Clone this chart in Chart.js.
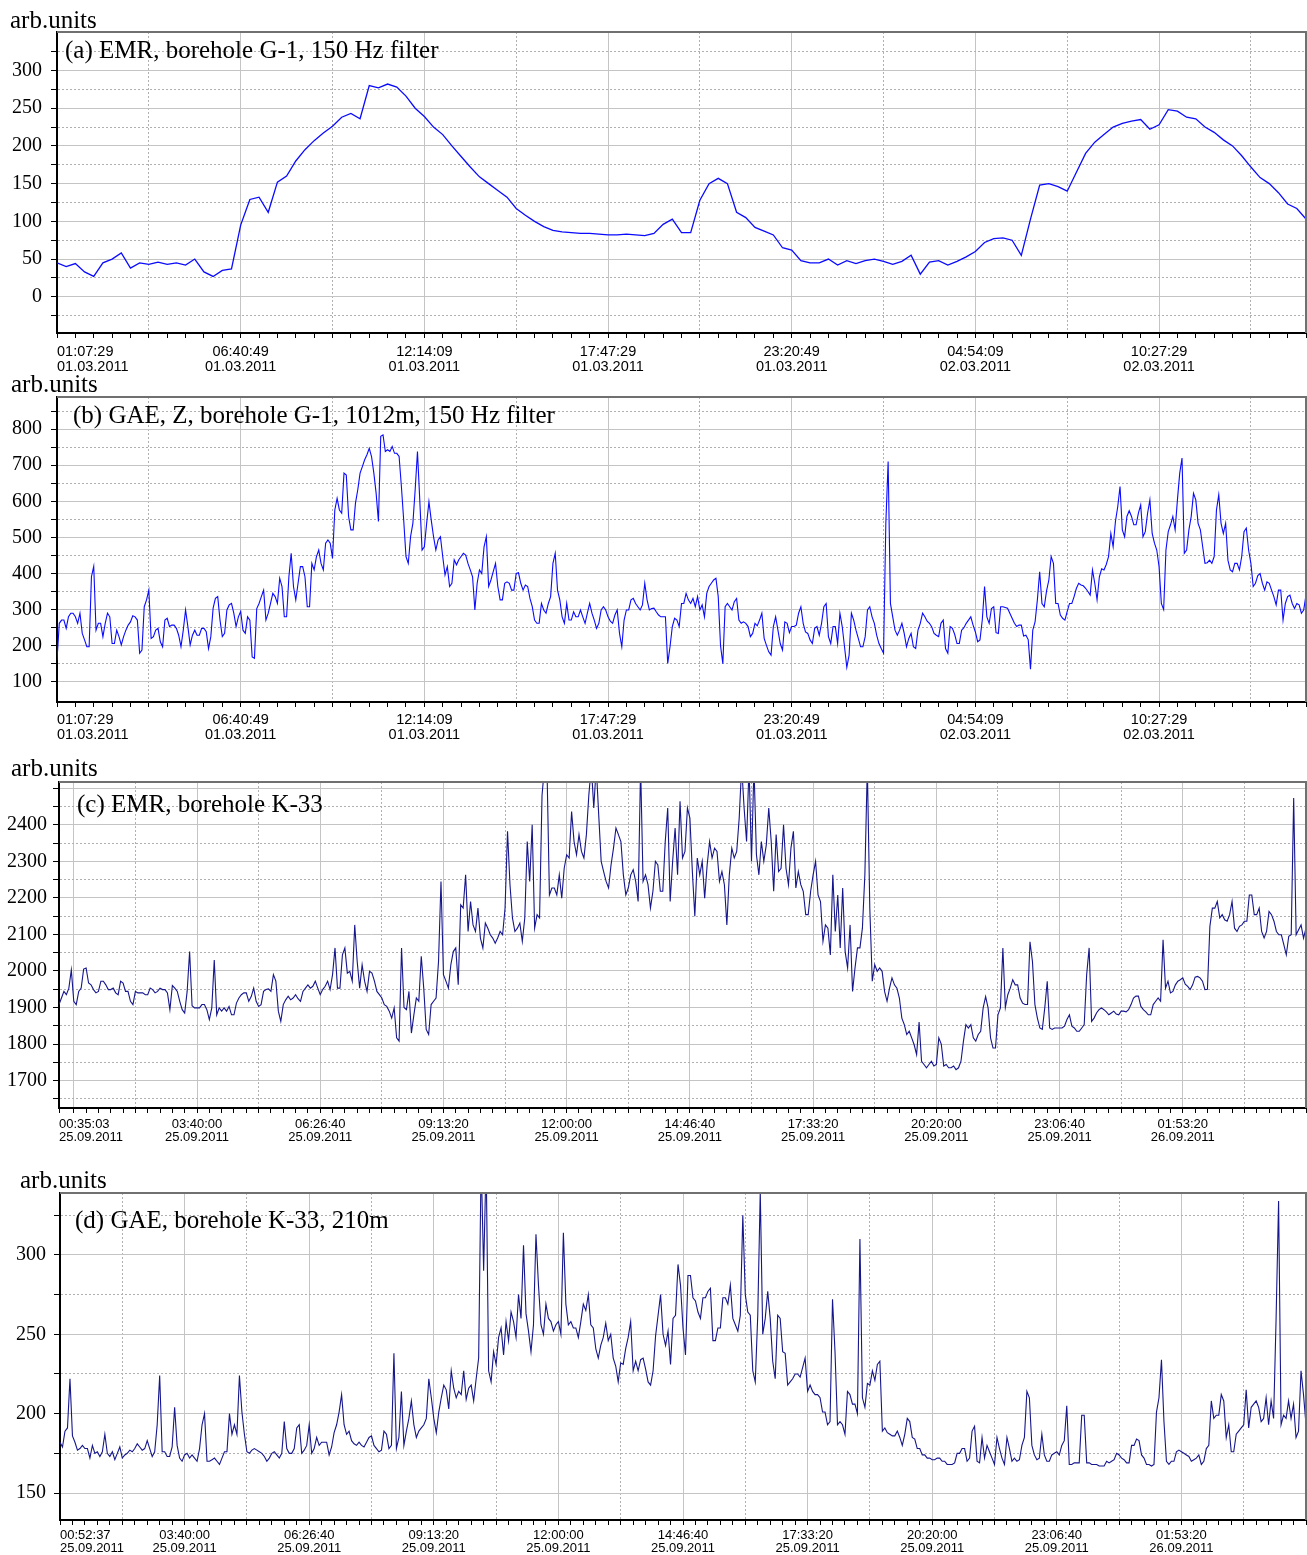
<!DOCTYPE html>
<html>
<head>
<meta charset="utf-8">
<script src="https://cdn.jsdelivr.net/npm/chart.js@4.4.1/dist/chart.umd.min.js"></script>
<style>
  body { margin: 0; background: #fff; width: 1307px; height: 1555px; position: relative; overflow: hidden; }
  canvas { position: absolute; left: 0; }
</style>
</head>
<body>
<canvas id="panelA" width="1313" height="372" style="top:0px"></canvas>
<canvas id="panelB" width="1312" height="385" style="top:372px"></canvas>
<canvas id="panelC" width="1311" height="410" style="top:757px"></canvas>
<canvas id="panelD" width="1310" height="388" style="top:1167px"></canvas>
<script>
// time axis labels (seconds from start of record)
const timesG1 = ['01:07:29', '06:40:49', '12:14:09', '17:47:29', '23:20:49', '04:54:09', '10:27:29'];
const datesG1 = ['01.03.2011', '01.03.2011', '01.03.2011', '01.03.2011', '01.03.2011', '02.03.2011', '02.03.2011'];
const timesK33c = ['00:35:03', '03:40:00', '06:26:40', '09:13:20', '12:00:00', '14:46:40', '17:33:20', '20:20:00', '23:06:40', '01:53:20'];
const timesK33d = ['00:52:37', '03:40:00', '06:26:40', '09:13:20', '12:00:00', '14:46:40', '17:33:20', '20:20:00', '23:06:40', '01:53:20'];
const datesK33 = ['25.09.2011', '25.09.2011', '25.09.2011', '25.09.2011', '25.09.2011', '25.09.2011', '25.09.2011', '25.09.2011', '25.09.2011', '26.09.2011'];

const yLabelsA = [0, 50, 100, 150, 200, 250, 300];
const yLabelsB = [100, 200, 300, 400, 500, 600, 700, 800];
const yLabelsC = [1700, 1800, 1900, 2000, 2100, 2200, 2300, 2400];
const yLabelsD = [150, 200, 250, 300];

const unitsText = 'arb.units';
const titles = [
  '(a) EMR, borehole G-1, 150 Hz filter',
  '(b) GAE, Z, borehole G-1, 1012m, 150 Hz filter',
  '(c) EMR, borehole K-33',
  '(d) GAE, borehole K-33, 210m'
];

// (a) EMR G-1, one sample per 1000 s
const stepA = 1000;
const emrG1 = [45,40,44,33,27,45,50,58,38,45, 43,46,43,45,42,50,33,27,35,37,
  95,129,132,112,152,160,180,195,207,217, 226,238,243,236,280,277,282,278,266,250,
  239,225,215,200,186,172,159,150,141,132, 117,108,100,93,88,86,85,84,84,83,
  82,82,83,82,81,84,96,103,85,85, 128,150,157,150,112,105,92,87,82,65,
  62,48,45,45,50,42,48,44,48,50, 47,43,47,55,30,46,48,42,47,53,
  60,72,77,78,75,55,103,148,150,146, 140,165,190,205,215,225,230,233,235,222,
  228,248,246,238,236,225,218,208,200,187, 172,158,150,138,123,117,103];

// (b) GAE G-1, one sample per 250 s
const stepB = 250;
const gaeG1 = [
  160,262,271,271,248,280,290,290,280,262,290,234,216,197,197,391,420,243,262,262,
  225,262,290,280,206,206,243,225,202,225,243,257,266,283,280,271,179,188,308,327,
  354,220,225,243,248,211,197,271,276,253,257,257,248,229,197,243,299,253,202,229,
  243,229,229,248,248,239,192,225,304,331,336,271,225,234,299,313,317,290,253,280,
  295,243,234,280,271,169,165,303,317,336,354,271,290,317,345,336,317,387,364,280,
  280,391,456,364,327,373,419,419,391,308,308,428,410,447,465,428,410,484,493,484,
  442,576,608,576,567,678,673,558,521,521,595,632,678,696,715,729,747,724,678,622,
  544,780,784,738,743,738,752,733,733,724,641,548,447,428,502,539,632,738,604,465,
  474,539,599,548,502,465,493,502,447,396,419,364,373,438,424,438,447,456,451,428,
  410,391,299,373,410,400,474,502,364,382,405,428,364,327,327,373,377,373,354,354,
  400,402,373,354,368,364,331,308,271,262,262,317,299,290,317,336,428,456,354,327,
  280,262,317,271,271,294,280,280,299,280,262,290,317,290,271,248,262,299,308,299,
  280,268,262,285,299,234,197,271,299,299,327,331,317,308,299,313,373,327,299,303,
  304,294,285,280,280,280,151,197,253,276,271,253,317,317,
  345,327,317,331,308,336,299,313,280,345,364,373,382,387,336,200,150,308,317,308,
  299,322,331,271,262,266,262,253,225,234,262,255,271,290,220,201,183,174,253,280,
  243,206,188,266,262,236,253,253,257,290,308,262,238,234,216,206,248,253,229,262,
  308,317,225,206,253,253,206,290,253,197,140,174,290,271,243,220,197,197,225,299,
  308,280,262,229,206,192,179,540,710,317,280,243,229,243,262,234,197,220,234,197,
  192,243,262,290,280,268,262,252,234,229,225,262,271,192,179,253,248,231,206,206,
  243,250,262,271,280,257,238,211,216,271,364,280,262,303,308,236,234,308,308,306,
  304,290,276,262,253,257,257,227,229,217,135,243,266,327,405,317,308,352,382,447,
  428,317,317,285,276,271,295,317,317,336,359,373,368,366,359,350,340,410,373,327,
  391,413,410,425,447,511,474,544,585,641,521,502,558,574,558,535,535,567,590,502,
  516,567,604,511,484,465,419,317,300,465,516,535,558,521,604,678,720,456,465,521,
  558,622,604,539,521,474,428,430,437,428,447,576,618,539,511,539,437,410,405,428,
  428,410,447,516,526,465,428,364,373,394,400,373,354,377,373,354,336,313,354,354,
  271,317,336,340,317,303,317,313,290,299,340];

// (c) EMR K-33, one sample per 200 s, starting 1200 s before the first grid line
const stepC = 200, startC = -1200;
const emrK33 = [
  1908,1926,1944,1935,1953,2003,1917,1908,1944,1953,2005,2008,1967,1962,1949,1940,1944,1972,1972,1962,
  1949,1949,1953,1940,1935,1972,1967,1944,1944,1917,1908,1944,1940,1940,1940,1935,1935,1953,1949,1940,
  1944,1953,1949,1949,1940,1894,1960,1953,1944,1917,1894,1885,1944,2053,1905,1899,1899,1899,1908,1908,
  1894,1867,1899,2030,1880,1899,1890,1899,1890,1903,1880,1880,1912,1926,1935,1940,1940,1917,1930,1953,
  1917,1903,1908,1944,1949,1951,1944,1990,1972,1890,1862,1908,1921,1931,1921,1926,1935,1924,1917,1944,
  1953,1962,1953,1958,1972,1953,1935,1949,1958,1972,1949,1990,2063,1953,1953,2044,2063,1994,1999,1972,
  2126,2026,1953,2017,1972,1944,1999,1994,1972,1944,1935,1926,1908,1903,1890,1871,1899,1817,1808,2063,
  1900,1894,1944,1830,1880,1926,1917,2040,1953,1840,1826,1908,1917,1926,2026,2245,1990,1972,1953,2017,
  2053,2063,1962,2181,2172,2263,2108,2190,2126,2108,2172,2090,2063,2131,2117,2099,2090,2076,2090,2108,
  2099,2172,2382,2236,2145,2108,2117,2131,2081,2145,2354,2245,2400,2117,2154,2145,2480,2560,2560,2208,
  2227,2227,2208,2263,2199,2281,2318,2309,2436,2354,2318,2373,2327,2309,2373,2482,2560,2446,2560,2427,
  2300,2272,2245,2227,2290,2336,2391,2373,2354,2263,2208,2227,2263,2277,2245,2190,2560,2245,2263,2236,
  2172,2218,2300,2290,2218,2218,2354,2446,2190,2300,2391,2263,2464,2309,2327,2446,
  2418,2272,2150,2309,2263,2300,2199,2290,2354,2309,2336,2327,2245,2272,2236,2126,2263,2336,2309,2327,
  2418,2560,2446,2354,2560,2300,2560,2318,2263,2354,2300,2345,2446,2354,2218,2373,2272,2281,2400,2281,
  2236,2336,2382,2227,2272,2236,2218,2154,2154,2218,2263,2300,2208,2190,2081,2126,2117,2044,2263,2108,
  2208,2063,2227,2053,2008,2126,1944,2008,2063,2063,2117,2263,2560,2172,1972,2017,1999,2008,1999,1944,
  1917,1953,1981,1962,1953,1926,1871,1853,1826,1835,1817,1798,1771,1860,1753,1744,1735,1744,1753,1740,
  1744,1817,1800,1740,1744,1735,1735,1740,1730,1735,1753,1808,1853,1844,1853,1817,1808,1826,1835,1899,
  1930,1899,1817,1789,1789,1880,1899,2063,1900,1935,1953,1976,1962,1962,1926,1912,1908,1908,2080,2026,
  1908,1871,1844,1840,1899,1972,1844,1840,1844,1844,1844,1844,1849,1867,1880,1849,1844,1835,1835,1844,
  1853,1990,2063,1862,1871,1885,1894,1899,1894,1888,1880,1885,1890,1882,1880,1890,1890,1888,1894,1908,
  1926,1931,1931,1903,1894,1888,1880,1880,1908,1917,1926,1917,2085,1953,1972,1940,1944,1962,1972,1976,
  1981,1964,1958,1949,1962,1983,1985,1981,1972,1949,1950,2122,2172,2172,2190,2145,2154,2140,2136,2154,
  2190,2117,2108,2122,2126,2136,2136,2208,2208,2154,2154,2172,2108,2090,2108,2163,2154,2136,2108,2099,
  2099,2072,2044,2095,2099,2473,2099,2113,2126,2090,2117];

// (d) GAE K-33, one sample per 200 s
const stepD = 200;
const gaeK33 = [
  182,179,189,191,222,186,182,177,178,180,178,178,172,180,175,176,173,176,187,175,
  173,176,171,175,179,172,174,175,177,176,178,181,179,177,178,183,178,173,176,193,
  224,176,176,173,173,179,204,180,172,170,174,175,172,174,172,170,178,193,200,170,
  170,171,172,170,168,172,176,176,200,187,193,187,224,201,187,176,175,177,178,177,
  176,175,173,170,172,175,176,174,172,175,195,178,175,175,178,191,193,175,177,180,
  193,175,178,185,180,182,182,182,174,179,188,193,201,212,193,187,189,183,181,180,
  182,180,179,182,185,186,180,178,176,177,189,187,178,180,238,178,185,214,180,189,
  197,208,193,185,189,191,193,197,222,210,197,188,201,210,218,215,203,227,216,210,
  214,212,227,209,216,218,208,222,235,360,290,360,227,220,239,231,248,254,237,258,
  246,264,258,248,275,260,306,263,252,239,256,313,281,256,250,269,260,258,252,256,
  258,250,314,269,256,258,254,254,248,258,269,265,275,256,254,241,235,243,248,257,
  246,250,235,230,220,232,231,241,248,258,227,233,227,234,235,228,220,218,227,249,
  262,275,250,243,252,231,260,262,294,281,254,237,
  287,287,273,271,264,260,273,273,277,279,246,246,254,254,273,273,269,281,260,256,
  252,262,325,275,264,262,227,220,262,340,250,260,277,260,233,222,262,260,239,238,
  218,220,222,225,225,223,229,235,214,218,214,212,212,210,201,201,193,195,272,239,
  193,195,193,187,214,212,206,206,200,310,210,204,219,218,227,221,231,233,189,191,
  188,187,186,186,189,185,180,187,197,195,185,184,178,178,174,174,172,172,171,171,
  172,172,170,170,168,168,168,169,175,175,178,178,170,172,189,192,170,169,185,172,
  180,176,172,168,185,178,172,168,185,178,170,172,170,171,180,185,214,210,180,174,
  171,172,187,174,170,170,174,175,176,174,180,183,205,168,168,169,169,169,199,199,
  169,169,168,168,168,167,167,167,170,169,170,171,175,174,172,171,169,169,180,180,
  184,183,174,172,168,168,167,168,201,210,234,195,170,168,170,170,176,177,176,175,
  174,173,170,171,172,174,168,170,178,180,208,197,199,199,212,208,185,193,176,176,
  187,189,191,193,215,191,204,206,208,204,195,197,210,193,208,197,260,334,193,199,
  197,208,197,206,185,189,227,212,193];

function points(values, step, start) {
  return values.map((v, i) => ({ x: start + i * step, y: v }));
}
function range(a, b, s) {
  const out = [];
  for (let v = a; v <= b; v += s) out.push(v);
  return out;
}

const decor = {
  id: 'decor',
  afterDraw(chart, args, o) {
    const { ctx, chartArea: a } = chart;
    ctx.save();
    ctx.strokeStyle = '#707070';
    ctx.lineWidth = 2;
    ctx.beginPath();
    ctx.moveTo(a.left, a.top);
    ctx.lineTo(a.right, a.top);
    ctx.lineTo(a.right, a.bottom);
    ctx.stroke();
    ctx.fillStyle = '#000';
    ctx.textBaseline = 'alphabetic';
    ctx.font = '25px "Liberation Serif"';
    ctx.fillText(unitsText, o.unitsX, o.unitsY);
    ctx.fillText(o.title, o.titleX, o.titleY);
    ctx.restore();
  }
};

function panel(id, p) {
  const dotted = '#b0b0b0', solid = '#c4c4c4';
  const xKind = v => v % p.xMajor === 0 ? 2 : (v % p.xMinor === 0 ? 1 : 0);
  const yKind = v => v % p.yMajor === 0 ? 2 : 1;
  new Chart(document.getElementById(id), {
    type: 'line',
    data: {
      datasets: [{
        data: p.data,
        borderColor: p.color,
        borderWidth: p.lineW,
        pointRadius: 0,
        tension: 0
      }]
    },
    options: {
      responsive: false,
      animation: false,
      events: [],
      // the x scale reserves ticks.padding on its right end, so the canvas is that much wider
      layout: { padding: { left: 0, right: p.xPad, top: p.top, bottom: 0 } },
      plugins: {
        legend: { display: false },
        tooltip: { enabled: false },
        decor: p.decor
      },
      scales: {
        x: {
          type: 'linear',
          bounds: 'data',
          min: p.xMin,
          max: p.xMax,
          afterBuildTicks: s => { s.ticks = p.xTicks.map(v => ({ value: v })); },
          afterFit: s => { s.height = p.xAxisH; },
          ticks: {
            autoSkip: false,
            maxRotation: 0,
            align: 'inner',
            padding: p.xPad,
            color: '#000',
            font: { family: 'Liberation Sans', size: p.xFont, lineHeight: 1.0 },
            callback: v => {
              const k = p.xLabelAt.indexOf(v);
              return k < 0 ? '' : [p.times[k], p.dates[k]];
            }
          },
          grid: {
            color: c => !c.tick ? 'rgba(0,0,0,0)' : (xKind(c.tick.value) === 2 ? solid : (xKind(c.tick.value) === 1 ? dotted : 'rgba(0,0,0,0)')),
            lineWidth: 1,
            tickColor: '#000',
            tickLength: 5
          },
          border: {
            color: '#000',
            width: 2,
            dash: c => (c.tick && xKind(c.tick.value) === 1) ? [2, 2] : []
          }
        },
        y: {
          bounds: 'data',
          min: p.yMin,
          max: p.yMax,
          afterBuildTicks: s => { s.ticks = p.yTicks.map(v => ({ value: v })); },
          afterFit: s => { s.width = p.left; },
          ticks: {
            autoSkip: false,
            padding: p.yPad,
            color: '#000',
            font: { family: 'Liberation Serif', size: 20 },
            callback: v => p.yLabels.includes(v) ? String(v) : ''
          },
          grid: {
            color: c => !c.tick ? 'rgba(0,0,0,0)' : (yKind(c.tick.value) === 2 ? solid : dotted),
            lineWidth: 1,
            tickColor: '#000',
            tickLength: 6
          },
          border: {
            color: '#000',
            width: 2,
            dash: c => (c.tick && yKind(c.tick.value) === 1) ? [2, 2] : []
          }
        }
      }
    },
    plugins: [decor]
  });
}

panel('panelA', {
  data: points(emrG1, stepA, 0), color: '#0a0aff', lineW: 1.3,
  top: 32, left: 57, xAxisH: 39, xPad: 7, xFont: 14.5, yPad: 9,
  xMin: 0, xMax: 136000, xTicks: range(0, 136000, 2000), xMajor: 20000, xMinor: 10000,
  xLabelAt: range(0, 120000, 20000), times: timesG1, dates: datesG1,
  yMin: -48, yMax: 351, yTicks: range(-25, 325, 25), yMajor: 50, yLabels: yLabelsA,
  decor: { title: titles[0], unitsX: 10, unitsY: 28, titleX: 65, titleY: 58 }
});

panel('panelB', {
  data: points(gaeG1, stepB, 0), color: '#0a0aff', lineW: 1.1,
  top: 25, left: 57, xAxisH: 55, xPad: 6, xFont: 14.5, yPad: 9,
  xMin: 0, xMax: 136000, xTicks: range(0, 136000, 2000), xMajor: 20000, xMinor: 10000,
  xLabelAt: range(0, 120000, 20000), times: timesG1, dates: datesG1,
  yMin: 44, yMax: 889, yTicks: range(100, 850, 50), yMajor: 100, yLabels: yLabelsB,
  decor: { title: titles[1], unitsX: 11, unitsY: 20, titleX: 73, titleY: 51 }
});

panel('panelC', {
  data: points(emrK33, stepC, startC), color: '#15158c', lineW: 1.1,
  top: 25, left: 59, xAxisH: 59, xPad: 5, xFont: 13, yPad: 6,
  xMin: -1200, xMax: 100000, xTicks: [-1200].concat(range(0, 100000, 1000)), xMajor: 10000, xMinor: 5000,
  xLabelAt: [-1200].concat(range(10000, 90000, 10000)), times: timesK33c, dates: datesK33,
  yMin: 1625, yMax: 2517, yTicks: range(1650, 2500, 50), yMajor: 100, yLabels: yLabelsC,
  decor: { title: titles[2], unitsX: 11, unitsY: 19, titleX: 77, titleY: 55 }
});

panel('panelD', {
  data: points(gaeK33, stepD, 0), color: '#15158c', lineW: 1.1,
  top: 26, left: 60, xAxisH: 35, xPad: 4, xFont: 13, yPad: 8,
  xMin: 0, xMax: 100000, xTicks: range(0, 100000, 1000), xMajor: 10000, xMinor: 5000,
  xLabelAt: range(0, 90000, 10000), times: timesK33d, dates: datesK33,
  yMin: 133, yMax: 339, yTicks: range(150, 325, 25), yMajor: 50, yLabels: yLabelsD,
  decor: { title: titles[3], unitsX: 20, unitsY: 21, titleX: 75, titleY: 61 }
});
</script>
</body>
</html>
